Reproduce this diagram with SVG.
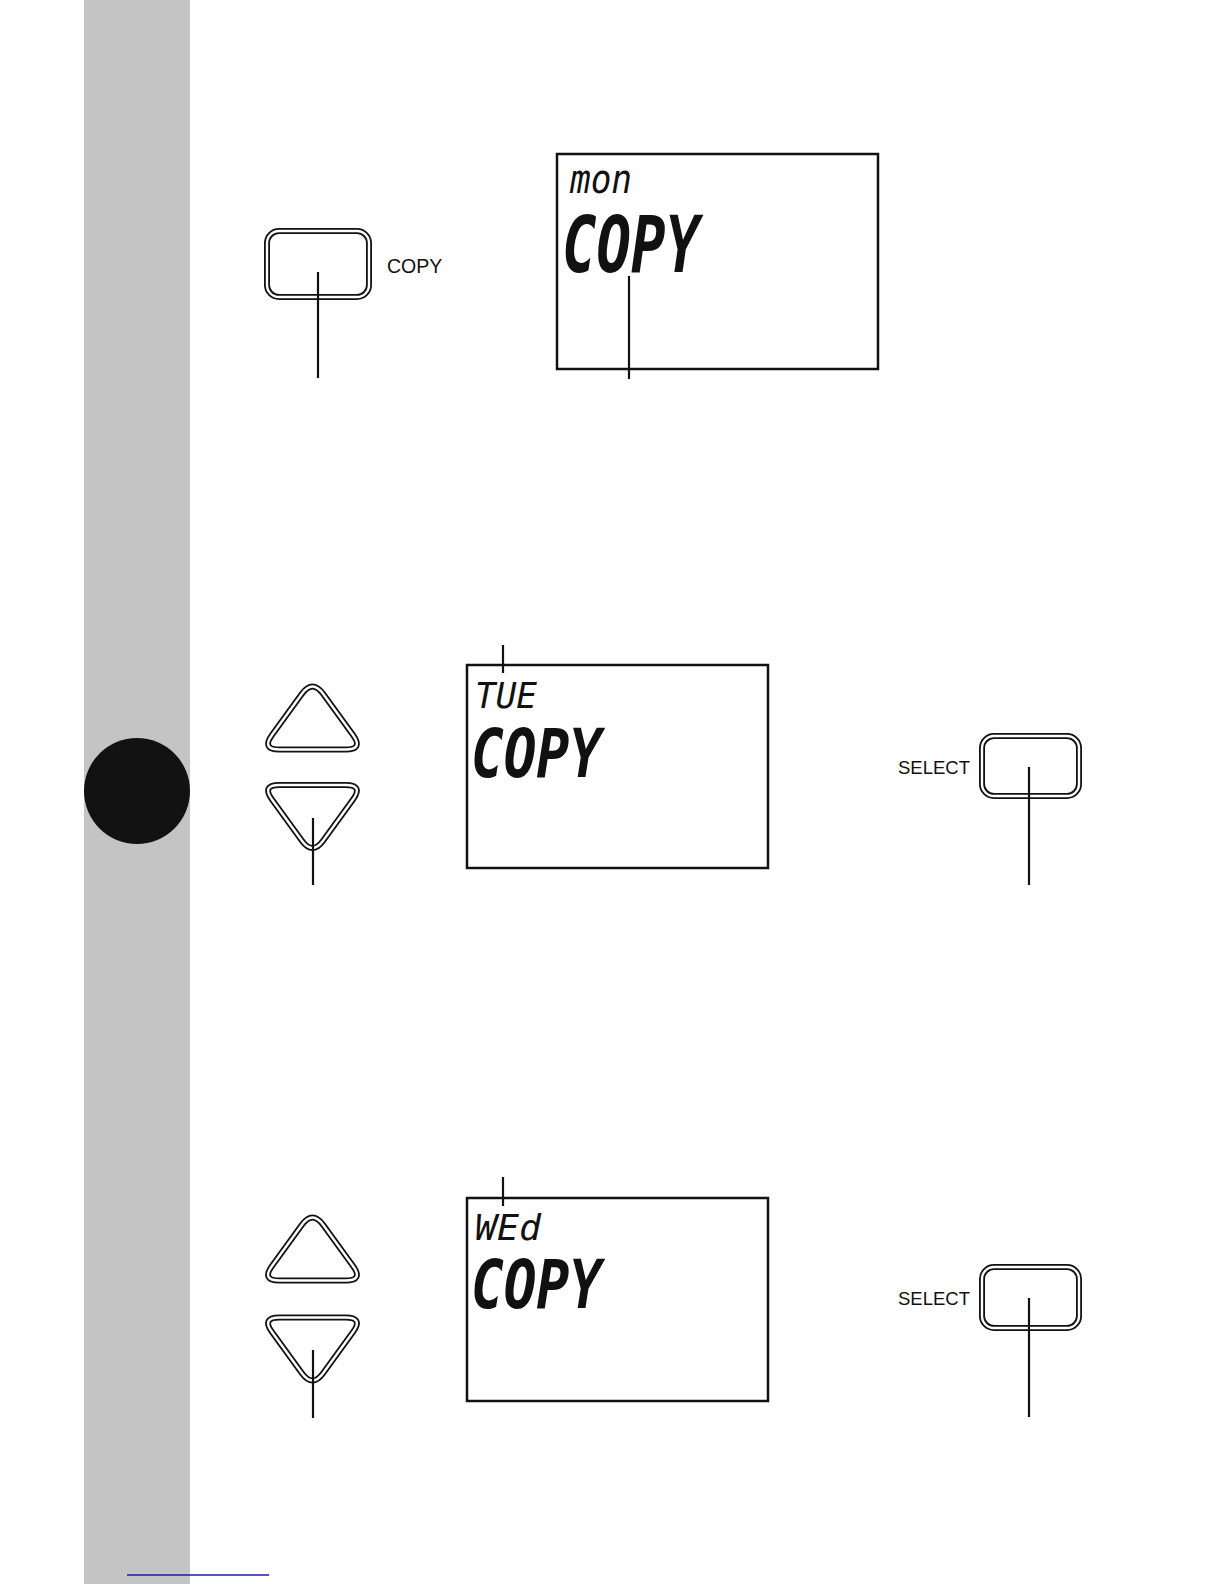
<svg xmlns="http://www.w3.org/2000/svg" width="1224" height="1584" viewBox="0 0 1224 1584">
<style>
.lbl{font-family:"Liberation Sans",Arial,sans-serif;font-size:18.5px;fill:#111}
.lcd{fill:none;stroke:#111;stroke-width:2.5}
.seg-s{font-family:"DejaVu Sans Mono",monospace;font-style:oblique;font-weight:normal;fill:#111}
.seg-l{font-family:"DejaVu Sans Mono",monospace;font-style:oblique;font-weight:bold;fill:#111}
.btn-o{fill:none;stroke:#111;stroke-width:6}
.btn-i{fill:none;stroke:#fff;stroke-width:2.4}
.conn{stroke:#111;stroke-width:2.2;fill:none}
</style>
<defs>
<path id="tri" d="M -10.58,-24.24 L -40.52,16.94 Q -51.1,31.5 -33.1,31.5 L 33.1,31.5 Q 51.1,31.5 40.52,16.94 L 10.58,-24.24 Q 0,-38.8 -10.58,-24.24 Z"/>
</defs>
<rect id="sidebar" x="84" y="0" width="106" height="1584" fill="#c4c4c4"/>
<circle id="tab-dot" cx="137" cy="791" r="53" fill="#121212"/>
<line id="footer-rule" x1="127" y1="1575" x2="269" y2="1575" stroke="#1c1ca0" stroke-width="1.5"/>

<g id="copy-button">
<rect class="btn-o" x="267" y="231" width="102" height="66" rx="12"/>
<rect class="btn-i" x="267" y="231" width="102" height="66" rx="12"/>
<text class="lbl" x="387" y="273" font-size="19.5" style="font-size:19.5px">COPY</text>
</g>
<g id="lcd-1">
<rect class="lcd" x="557" y="154" width="321" height="215"/>
<text class="seg-s" x="570" y="193" font-size="40" textLength="62" lengthAdjust="spacingAndGlyphs">mon</text>
<text class="seg-l" x="562" y="272" font-size="78" textLength="138" lengthAdjust="spacingAndGlyphs">COPY</text>
</g>

<g id="up-button-2">
<use href="#tri" class="btn-o" transform="translate(312.5,718)"/>
<use href="#tri" class="btn-i" transform="translate(312.5,718)"/>
</g>
<g id="down-button-2">
<use href="#tri" class="btn-o" transform="translate(312.5,816.5) scale(1,-1)"/>
<use href="#tri" class="btn-i" transform="translate(312.5,816.5) scale(1,-1)"/>
</g>
<g id="lcd-2">
<rect class="lcd" x="467" y="665" width="301" height="203"/>
<text class="seg-s" x="475" y="708" font-size="36" textLength="62" lengthAdjust="spacingAndGlyphs">TUE</text>
<text class="seg-l" x="471" y="777" font-size="68" textLength="131" lengthAdjust="spacingAndGlyphs">COPY</text>
</g>
<g id="select-button-2">
<rect class="btn-o" x="982" y="736" width="97" height="60" rx="12"/>
<rect class="btn-i" x="982" y="736" width="97" height="60" rx="12"/>
<text class="lbl" x="898" y="774">SELECT</text>
</g>

<g id="up-button-3">
<use href="#tri" class="btn-o" transform="translate(312.5,1249)"/>
<use href="#tri" class="btn-i" transform="translate(312.5,1249)"/>
</g>
<g id="down-button-3">
<use href="#tri" class="btn-o" transform="translate(312.5,1349) scale(1,-1)"/>
<use href="#tri" class="btn-i" transform="translate(312.5,1349) scale(1,-1)"/>
</g>
<g id="lcd-3">
<rect class="lcd" x="467" y="1198" width="301" height="203"/>
<text class="seg-s" x="475" y="1240" font-size="36" textLength="66" lengthAdjust="spacingAndGlyphs">WEd</text>
<text class="seg-l" x="471" y="1308" font-size="68" textLength="131" lengthAdjust="spacingAndGlyphs">COPY</text>
</g>
<g id="select-button-3">
<rect class="btn-o" x="982" y="1267" width="97" height="61" rx="12"/>
<rect class="btn-i" x="982" y="1267" width="97" height="61" rx="12"/>
<text class="lbl" x="898" y="1305">SELECT</text>
</g>

<g id="connectors">
<line class="conn" x1="318" y1="272" x2="318" y2="378"/>
<line class="conn" x1="629" y1="276" x2="629" y2="379"/>
<line class="conn" x1="313" y1="818" x2="313" y2="885"/>
<line class="conn" x1="503" y1="645" x2="503" y2="673"/>
<line class="conn" x1="1029" y1="767" x2="1029" y2="885"/>
<line class="conn" x1="313" y1="1350" x2="313" y2="1418"/>
<line class="conn" x1="503" y1="1177" x2="503" y2="1206"/>
<line class="conn" x1="1029" y1="1298" x2="1029" y2="1417"/>
</g>
</svg>
